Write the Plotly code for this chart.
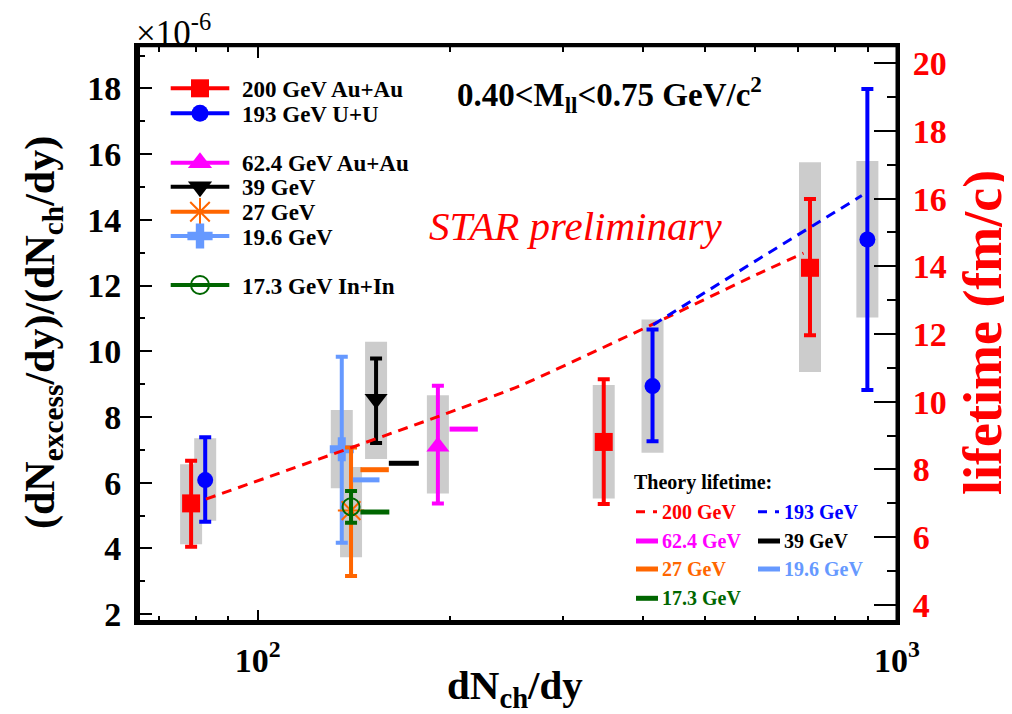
import numpy as np
import plotly.graph_objects as go

# ---------------- data ----------------
# x = dNch/dy, y = (dNexcess/dy)/(dNch/dy) in units of 1e-6
# stat error ends (hi/lo) and grey systematic boxes (sys_hi/sys_lo)
au200_x = [78.7, 347.8, 731.0]
au200_y = [5.37, 7.24, 12.54]
au200_hi = [6.67, 9.15, 14.63]
au200_lo = [4.05, 5.35, 10.49]
au200_sys_hi = [6.56, 8.97, 15.75]
au200_sys_lo = [4.13, 5.52, 9.37]

uu193_x = [82.8, 414.6, 898.8]
uu193_y = [6.08, 8.94, 13.40]
uu193_hi = [7.38, 10.66, 17.98]
uu193_lo = [4.81, 7.26, 8.82]
uu193_sys_hi = [7.35, 10.97, 15.79]
uu193_sys_lo = [4.84, 6.91, 11.03]

au62_x = [191.4]
au62_y = [7.10]
au62_hi = [8.95]
au62_lo = [5.37]
au62_sys_hi = [8.66]
au62_sys_lo = [5.67]

au39_x = [153.2]
au39_y = [8.55]
au39_hi = [9.78]
au39_lo = [7.21]
au39_sys_hi = [10.29]
au39_sys_lo = [6.72]

au27_x = [140.0]
au27_y = [5.15]
au27_hi = [7.07]
au27_lo = [3.16]
au27_sys_hi = [6.48]
au27_sys_lo = [3.73]

au19_x = [135.4]
au19_y = [7.02]
au19_hi = [9.83]
au19_lo = [4.17]
au19_sys_hi = [8.21]
au19_sys_lo = [5.83]

inin17_x = [140.0]
inin17_y = [5.27]
inin17_hi = [5.75]
inin17_lo = [4.78]

# theory lifetime (fm/c, right axis)
th200_x = [83, 191.4, 257, 413, 610, 714]
th200_y = [7.12, 9.56, 10.47, 12.27, 13.80, 14.39]
th193_x = [415.5, 610.5, 881]
th193_y = [12.27, 14.24, 16.09]

# single-energy theory lifetimes: short horizontal bars
bar_names = ["62.4 GeV", "39 GeV", "27 GeV", "19.6 GeV", "17.3 GeV"]
bar_x0 = [199.6, 160.4, 144.8, 140.9, 144.8]
bar_x1 = [221.0, 178.7, 160.4, 155.1, 160.7]
bar_y = [9.19, 8.18, 7.99, 7.69, 6.74]

# ---------------- style ----------------
RED, BLUE, MAG, BLK = "#ff0000", "#0000ff", "#ff00ff", "#000000"
ORA, LBL, GRN = "#ff6600", "#6699ff", "#006600"
GREY = "#cccccc"
FONT = "Liberation Serif"

# page is shown with an 8px body margin -> shrink figure and shift by that much
OFF = 8
PAGE_W, PAGE_H = 1012, 714
W, H = PAGE_W - OFF, PAGE_H - OFF
# plot area in page pixels
PX0, PX1, PY0, PY1 = 138, 897, 46, 622
L, T = PX0 - OFF, PY0 - OFF
R, B = W - (PX1 - OFF), H - (PY1 - OFF)
PW, PH = PX1 - PX0, PY1 - PY0


def fx(px):
    return (px - PX0) / PW


def fy(py):
    return (PY1 - py) / PH


BOX_HALF = 0.0172  # half width of syst. box in decades

fig = go.Figure()

series = [
    # x, y, hi, lo, sys_hi, sys_lo, color, symbol, size
    (au200_x, au200_y, au200_hi, au200_lo, au200_sys_hi, au200_sys_lo, RED, "square", 18),
    (uu193_x, uu193_y, uu193_hi, uu193_lo, uu193_sys_hi, uu193_sys_lo, BLUE, "circle", 16),
    (au62_x, au62_y, au62_hi, au62_lo, au62_sys_hi, au62_sys_lo, MAG, "triangle-up", 20),
    (au39_x, au39_y, au39_hi, au39_lo, au39_sys_hi, au39_sys_lo, BLK, "triangle-down", 20),
    (au19_x, au19_y, au19_hi, au19_lo, au19_sys_hi, au19_sys_lo, LBL, "cross", 20),
    (au27_x, au27_y, au27_hi, au27_lo, au27_sys_hi, au27_sys_lo, ORA, "asterisk-open", 22),
    (inin17_x, inin17_y, inin17_hi, inin17_lo, None, None, GRN, "circle-open", 17),
]

shapes = []
for x, y, hi, lo, shi, slo, col, sym, sz in series:
    if shi is not None:
        for xi, a, b in zip(x, shi, slo):
            shapes.append(dict(type="rect", xref="x", yref="y", layer="below",
                               x0=xi * 10 ** -BOX_HALF, x1=xi * 10 ** BOX_HALF,
                               y0=b, y1=a, fillcolor=GREY, line_width=0))
    mk = dict(symbol=sym, size=sz, color=col)
    if sym.endswith("open"):
        mk["line"] = dict(color=col, width=2)
    fig.add_trace(go.Scatter(
        x=x, y=y, mode="markers", marker=mk,
        error_y=dict(type="data", symmetric=False,
                     array=[h - v for h, v in zip(hi, y)],
                     arrayminus=[v - l for v, l in zip(y, lo)],
                     color=col, thickness=4, width=6),
        showlegend=False))

# theory curves on right axis
fig.add_trace(go.Scatter(x=th200_x, y=th200_y, yaxis="y2", mode="lines",
                         line=dict(color=RED, width=3, dash="10px,7px", shape="spline", smoothing=0.6),
                         showlegend=False))
fig.add_trace(go.Scatter(x=th193_x, y=th193_y, yaxis="y2", mode="lines",
                         line=dict(color=BLUE, width=3, dash="10px,7px"), showlegend=False))
bar_cols = [MAG, BLK, ORA, LBL, GRN]
for x0, x1, yv, col in zip(bar_x0, bar_x1, bar_y, bar_cols):
    fig.add_trace(go.Scatter(x=[x0, x1], y=[yv, yv], yaxis="y2", mode="lines",
                             line=dict(color=col, width=5), showlegend=False))

# ---------------- hand-drawn legends (overlay axis x3/y3 = plot-area fraction) ----------------
leg_rows = [
    ("200 GeV Au+Au", RED, "square", 18, 88.3),
    ("193 GeV U+U", BLUE, "circle", 17, 113.3),
    ("62.4 GeV Au+Au", MAG, "triangle-up", 21, 162.7),
    ("39 GeV", BLK, "triangle-down", 21, 186.7),
    ("27 GeV", ORA, "asterisk-open", 23, 211.7),
    ("19.6 GeV", LBL, "cross", 21, 236.0),
    ("17.3 GeV In+In", GRN, "circle-open", 18, 285.0),
]
annotations = []
for name, col, sym, sz, py in leg_rows:
    fig.add_trace(go.Scatter(x=[fx(170.7), fx(229.3)], y=[fy(py)] * 2, xaxis="x3", yaxis="y3",
                             mode="lines", line=dict(color=col, width=4), showlegend=False,
                             hoverinfo="skip"))
    mk = dict(symbol=sym, size=sz, color=col)
    if sym.endswith("open"):
        mk["line"] = dict(color=col, width=2)
    fig.add_trace(go.Scatter(x=[fx(200)], y=[fy(py)], xaxis="x3", yaxis="y3", mode="markers",
                             marker=mk, showlegend=False, hoverinfo="skip", cliponaxis=False))
    annotations.append(dict(xref="paper", yref="paper", x=fx(240), y=fy(py + 1),
                            xanchor="left", yanchor="middle", showarrow=False, text="<b>%s</b>" % name,
                            font=dict(family=FONT, size=23, color="black")))

th_rows = [
    ("200 GeV", RED, "9px,8px,4px,40px", 636, 511.7),
    ("193 GeV", BLUE, "9px,8px,4px,40px", 758, 511.7),
    ("62.4 GeV", MAG, "solid", 636, 541.0),
    ("39 GeV", BLK, "solid", 758, 541.0),
    ("27 GeV", ORA, "solid", 636, 569.0),
    ("19.6 GeV", LBL, "solid", 758, 569.0),
    ("17.3 GeV", GRN, "solid", 636, 598.3),
]
for name, col, dash, px, py in th_rows:
    wdt = 3 if dash != "solid" else 5
    fig.add_trace(go.Scatter(x=[fx(px), fx(px + 22)], y=[fy(py)] * 2, xaxis="x3", yaxis="y3",
                             mode="lines", line=dict(color=col, width=wdt, dash=dash),
                             showlegend=False, hoverinfo="skip"))
    annotations.append(dict(xref="paper", yref="paper", x=fx(px + 24), y=fy(py),
                            xanchor="left", yanchor="middle", showarrow=False,
                            text="<b>%s</b>" % name, font=dict(family=FONT, size=20, color=col)))
annotations.append(dict(xref="paper", yref="paper", x=fx(632), y=fy(482.7), xanchor="left",
                        yanchor="middle", showarrow=False, text="<b>Theory lifetime:</b>",
                        font=dict(family=FONT, size=20, color="black")))

# ---------------- texts ----------------
annotations += [
    dict(xref="paper", yref="paper", x=fx(134), y=fy(31), xanchor="left", yanchor="middle",
         showarrow=False, text="×10<sup>-6</sup>", font=dict(family=FONT, size=35, color="black")),
    dict(xref="paper", yref="paper", x=fx(455), y=fy(95), xanchor="left", yanchor="middle",
         showarrow=False, text="<b>0.40&lt;M<sub>ll</sub>&lt;0.75 GeV/c<sup>2</sup></b>",
         font=dict(family=FONT, size=33, color="black")),
    dict(xref="paper", yref="paper", x=fx(575), y=fy(226), xanchor="center", yanchor="middle",
         showarrow=False, text="<i>STAR preliminary</i>", font=dict(family=FONT, size=41, color=RED)),
    dict(xref="paper", yref="paper", x=fx(43), y=fy(333), xanchor="center", yanchor="middle",
         textangle=-90, showarrow=False,
         text="<b>(dN<sub>excess</sub>/dy)/(dN<sub>ch</sub>/dy)</b>",
         font=dict(family=FONT, size=42, color="black")),
    dict(xref="paper", yref="paper", x=fx(983), y=fy(333), xanchor="center", yanchor="middle",
         textangle=-90, showarrow=False, text="<b>lifetime (fm/c)</b>",
         font=dict(family=FONT, size=54, color=RED)),
    dict(xref="paper", yref="paper", x=fx(515), y=fy(688), xanchor="center", yanchor="middle",
         showarrow=False, text="<b>dN<sub>ch</sub>/dy</b>",
         font=dict(family=FONT, size=41, color="black")),
]

# frame: thick left/bottom
shapes += [
    dict(type="line", xref="paper", yref="paper", x0=0, x1=0, y0=0, y1=1, line=dict(color="black", width=4)),
    dict(type="line", xref="paper", yref="paper", x0=0, x1=1, y0=0, y1=0, line=dict(color="black", width=4)),
    dict(type="line", xref="paper", yref="paper", x0=0, x1=1, y0=1, y1=1, line=dict(color="black", width=2.5)),
    dict(type="line", xref="paper", yref="paper", x0=1, x1=1, y0=0, y1=1, line=dict(color="black", width=3)),
]

tick_font = dict(family=FONT, size=34, color="black", weight="bold")

fig.update_layout(
    width=W, height=H,
    margin=dict(l=L, r=R, t=T, b=B),
    paper_bgcolor="white", plot_bgcolor="white",
    showlegend=False,
    shapes=shapes,
    annotations=annotations,
    xaxis=dict(type="log", range=[np.log10(65), 3.0], showgrid=False, zeroline=False,
               showline=True, linecolor="black", linewidth=2.5, mirror="ticks",
               ticks="inside", ticklen=12, tickwidth=2, tickcolor="black",
               tickmode="array", tickvals=[100, 1000], ticktext=["10<sup>2</sup>", "10<sup>3</sup>"],
               tickfont=tick_font, ticklabelstandoff=6,
               minor=dict(tickmode="array", tickvals=[70, 80, 90, 200, 300, 400, 500, 600, 700, 800, 900],
                          ticks="inside", ticklen=6, tickwidth=2, tickcolor="black", showgrid=False)),
    yaxis=dict(range=[1.76, 19.29], showgrid=False, zeroline=False,
               showline=True, linecolor="black", linewidth=4,
               ticks="inside", ticklen=14, tickwidth=2, tickcolor="black",
               tick0=0, dtick=2, tickfont=tick_font, ticklabelstandoff=6,
               minor=dict(dtick=1, ticks="inside", ticklen=7, tickwidth=2, tickcolor="black",
                          showgrid=False)),
    yaxis2=dict(range=[3.49, 20.51], overlaying="y", side="right", showgrid=False, zeroline=False,
                showline=True, linecolor="black", linewidth=3,
                ticks="inside", ticklen=23, tickwidth=2, tickcolor="black",
                tick0=0, dtick=2, tickfont=dict(family=FONT, size=34, color=RED, weight="bold"),
                ticklabelstandoff=6,
                minor=dict(dtick=1, ticks="inside", ticklen=10, tickwidth=2, tickcolor="black",
                           showgrid=False)),
    xaxis3=dict(overlaying="x", range=[0, 1], visible=False),
    yaxis3=dict(overlaying="y", range=[0, 1], visible=False),
)

fig.write_html("out.html")
